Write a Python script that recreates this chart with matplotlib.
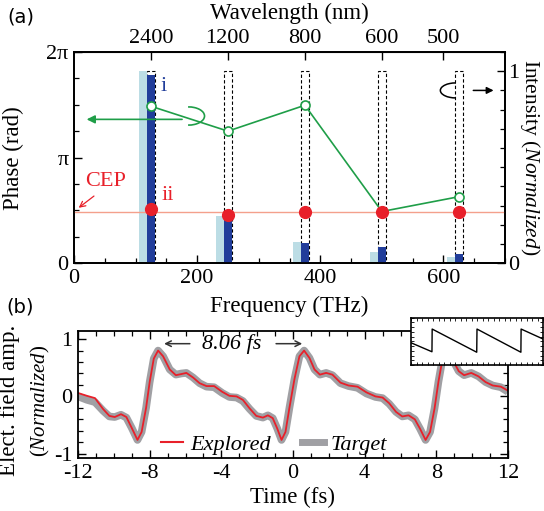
import numpy as np
import matplotlib
matplotlib.use('Agg')
import matplotlib.pyplot as plt
from matplotlib.pyplot import MultipleLocator
from matplotlib.patches import Arc
from matplotlib.lines import Line2D

plt.rcParams['font.family'] = ['Liberation Serif', 'DejaVu Serif']
plt.rcParams['mathtext.fontset'] = 'custom'
plt.rcParams['mathtext.rm'] = 'Liberation Serif'
plt.rcParams['mathtext.it'] = 'Liberation Serif:italic'
plt.rcParams['axes.unicode_minus'] = False
plt.rcParams['xtick.direction'] = 'in'
plt.rcParams['ytick.direction'] = 'in'

# ---- panel (a) data ----
freq_thz = [125, 250, 375, 500, 625]
wl_labels = ['2400', '1200', '800', '600', '500']
wl_nm = [2400, 1200, 800, 600, 500]
int_light = [1.0, 0.246, 0.11, 0.06, 0.035]
int_dark = [0.978, 0.27, 0.107, 0.087, 0.048]
phase_green = [4.67, 3.93, 4.70, 1.54, 1.98]
phase_red = [1.62, 1.43, 1.54, 1.54, 1.54]
cep_level = 1.54

# ---- panel (b) data ----
t_fs = [-12.0, -11.5, -11.05, -10.6, -10.25, -9.95, -9.6, -9.3, -9.0, -8.68,
        -8.45, -8.2, -8.0, -7.77, -7.53, -7.25, -6.88, -6.54, -6.23, -5.95,
        -5.58, -5.21, -4.83, -4.4, -3.95, -3.55, -3.15, -2.8, -2.42, -2.05,
        -1.68, -1.4, -1.13, -0.88, -0.64, -0.42, -0.2, 0.08, 0.36, 0.62,
        0.92, 1.2, 1.5, 1.85, 2.2, 2.65, 3.1, 3.6, 4.1, 4.6,
        5.0, 5.37, 5.75, 6.1, 6.45, 6.8, 7.1, 7.4, 7.65, 7.9,
        8.12, 8.32, 8.58, 8.88, 9.25, 9.55, 9.95, 10.35, 10.75, 11.15,
        11.6, 12.0]
explored = [0.06, 0.01, -0.03, -0.22, -0.34, -0.36, -0.31, -0.36, -0.55, -0.76,
            -0.62, -0.20, 0.25, 0.66, 0.80, 0.70, 0.47, 0.37, 0.39, 0.41,
            0.33, 0.23, 0.18, 0.18, 0.08, 0.01, 0.00, -0.06, -0.21, -0.34,
            -0.37, -0.33, -0.38, -0.56, -0.76, -0.62, -0.20, 0.30, 0.70, 0.80,
            0.67, 0.47, 0.38, 0.41, 0.38, 0.24, 0.19, 0.17, 0.07, 0.00,
            -0.02, -0.12, -0.27, -0.35, -0.33, -0.40, -0.57, -0.76, -0.62, -0.21,
            0.26, 0.61, 0.80, 0.66, 0.44, 0.37, 0.41, 0.35, 0.25, 0.19,
            0.17, 0.10]
target = [0.00, -0.06, -0.10, -0.25, -0.35, -0.36, -0.32, -0.37, -0.55, -0.76,
          -0.62, -0.20, 0.25, 0.66, 0.80, 0.70, 0.47, 0.38, 0.40, 0.41,
          0.33, 0.23, 0.17, 0.16, 0.06, -0.01, -0.02, -0.08, -0.22, -0.34,
          -0.37, -0.33, -0.38, -0.56, -0.76, -0.62, -0.20, 0.30, 0.70, 0.80,
          0.67, 0.47, 0.38, 0.41, 0.37, 0.23, 0.18, 0.15, 0.05, -0.01,
          -0.03, -0.13, -0.27, -0.35, -0.33, -0.40, -0.57, -0.76, -0.62, -0.21,
          0.26, 0.61, 0.80, 0.66, 0.44, 0.37, 0.41, 0.35, 0.25, 0.19,
          0.16, 0.08]

# inset (sawtooth)
inset_t = [-12.0, -8.19, -8.15, -0.05, 0.0, 7.98, 8.02, 12.0]
inset_v = [0.47, 0.28, 0.76, 0.27, 0.76, 0.27, 0.76, 0.55]

green = '#1f9e48'
red = '#e8202a'
dblue = '#213d9a'
lblue = '#bcdde5'

W, H = 544, 511
fig = plt.figure(figsize=(W / 100, H / 100), dpi=100)

def px_rect(l, r, t, b):
    return [l / W, (H - b) / H, (r - l) / W, (b - t) / H]

# ================= (a) =================
ax2 = fig.add_axes(px_rect(74, 505, 52, 263.3))
ax1 = ax2.twinx()
# ax1 = phase axis (left), drawn on top of the bars
ax1.yaxis.tick_left()
ax1.yaxis.set_label_position('left')
ax2.yaxis.tick_right()
ax2.yaxis.set_label_position('right')

fr = np.array(freq_thz)
ax2.bar(fr, [1.0] * len(fr), width=12, fill=False, edgecolor='k',
        linestyle=(0, (3, 2)), linewidth=0.8, zorder=1)
ax2.bar(fr - 13, int_light, width=14, color=lblue, zorder=2)
ax2.bar(fr, int_dark, width=12, color=dblue, zorder=3)
ax2.set_ylim(0, 1.1)
ax2.set_xlim(0, 700)
ax2.set_yticks([0, 1])
ax2.yaxis.set_minor_locator(MultipleLocator(0.1))
ax2.set_ylabel(r'Intensity ($\mathit{Normalized}$)', fontsize=15.5,
               rotation=270, va='center')
ax2.yaxis.set_label_coords(1.058, 0.5)

ax1.axhline(cep_level, color='#f4a08c', lw=1.0, zorder=2)
ax1.plot(fr, phase_green, '-o', color=green, lw=1.2, ms=6.5, mfc='white',
         mec=green, mew=1.2, zorder=4)
ax1.plot(fr, phase_red, 'o', color=red, ms=8.5, zorder=5)
ax1.set_ylim(0, 2 * np.pi)
ax1.set_yticks([0, np.pi, 2 * np.pi])
ax1.set_yticklabels(['0', 'π', '2π'])
ax1.yaxis.set_minor_locator(MultipleLocator(np.pi / 4))
ax1.set_ylabel('Phase (rad)', fontsize=16.5)
ax1.yaxis.set_label_coords(-0.115, 0.5)

ax2.set_xticks([0, 200, 400, 600])
ax2.xaxis.set_minor_locator(MultipleLocator(50))
ax2.set_xlabel('Frequency (THz)', fontsize=16.5)
ax2.xaxis.set_label_coords(0.5, -0.155)

top = ax2.secondary_xaxis('top')
top.set_xticks(299792.458 / np.array(wl_nm), wl_labels)
top.tick_params(direction='in', length=6, width=1.0, labelsize=16, pad=3)
ax2.text(0.5, 1.185, 'Wavelength (nm)', transform=ax2.transAxes,
         ha='center', va='center', fontsize=16.5)

for a in (ax1, ax2):
    a.tick_params(which='major', length=6, width=1.0, labelsize=16, pad=4)
    a.tick_params(which='minor', length=3.5, width=0.9)
    for s in a.spines.values():
        s.set_linewidth(1.3)
ax1.tick_params(axis='x', which='both', bottom=False, labelbottom=False)
ax2.tick_params(axis='y', which='major', pad=2)

# annotations
ax1.text(146, 5.25, 'i', color=dblue, fontsize=16, ha='center', va='center')
ax1.text(152, 2.03, 'ii', color=red, fontsize=16, ha='center', va='center')
ax1.text(52, 2.42, 'CEP', color=red, fontsize=16, ha='center', va='center')
ax1.annotate('', xy=(4, 1.6), xytext=(36, 2.05),
             arrowprops=dict(arrowstyle='->', color=red, lw=0.9,
                             mutation_scale=10))
ax1.annotate('', xy=(16, 4.28), xytext=(180, 4.28),
             arrowprops=dict(arrowstyle='-|>', color=green, lw=1.2,
                             mutation_scale=12))
ax1.add_patch(Arc((186, 4.38), 52, 0.54, theta1=200, theta2=520,
                  color=green, lw=1.2))
ax2.add_patch(Arc((620, 0.90), 50, 0.078, theta1=20, theta2=340,
                  color='k', lw=1.1))
ax2.annotate('', xy=(686, 0.90), xytext=(644, 0.90),
             arrowprops=dict(arrowstyle='-|>', color='k', lw=1.1,
                             mutation_scale=10))

fig.text(21 / W, 1 - 17 / H, '(a)', fontsize=14, family='DejaVu Sans',
         ha='center', va='center')

# ================= (b) =================
axb = fig.add_axes(px_rect(78, 508, 330.5, 458.3))
axb.plot(t_fs, target, color='#a0a0a4', lw=5.5, solid_capstyle='butt')
axb.plot(t_fs, explored, color=red, lw=1.3)
axb.set_xlim(-12, 12)
axb.set_ylim(-1.08, 1.15)
axb.set_xticks([-12, -8, -4, 0, 4, 8, 12])
axb.xaxis.set_minor_locator(MultipleLocator(1))
axb.set_yticks([-1, 0, 1])
axb.yaxis.set_minor_locator(MultipleLocator(0.2))
axb.tick_params(which='major', length=6, width=1.0, labelsize=16, pad=4,
                top=True, right=True)
axb.tick_params(which='minor', length=3.5, width=0.9, top=True, right=True)
for s in axb.spines.values():
    s.set_linewidth(1.3)
axb.set_xlabel('Time (fs)', fontsize=16.5)
axb.xaxis.set_label_coords(0.5, -0.22)
axb.set_ylabel('Elect. field amp.', fontsize=16.5)
axb.yaxis.set_label_coords(-0.135, 0.45)
axb.text(-0.088, 0.45, r'($\mathit{Normalized}$)', transform=axb.transAxes,
         rotation=90, ha='center', va='center', fontsize=15)

axb.text(-3.45, 0.92, '8.06 fs', style='italic', fontsize=16,
         ha='center', va='center')
axb.annotate('', xy=(-7.35, 0.92), xytext=(-5.6, 0.92),
             arrowprops=dict(arrowstyle='->', color='#333333', lw=1.1))
axb.annotate('', xy=(0.67, 0.92), xytext=(-1.1, 0.92),
             arrowprops=dict(arrowstyle='->', color='#333333', lw=1.1))

handles = [Line2D([], [], color=red, lw=1.5),
           Line2D([], [], color='#a0a0a4', lw=5.0)]
axb.legend(handles, ['Explored', 'Target'], loc='center',
           bbox_to_anchor=(0.456, 0.11), ncol=2, frameon=False,
           prop={'style': 'italic', 'size': 16}, handlelength=1.0,
           handletextpad=0.3, columnspacing=1.4, borderpad=0)

fig.text(20 / W, 1 - 307 / H, '(b)', fontsize=14, family='DejaVu Sans',
         ha='center', va='center')

# inset
axi = fig.add_axes(px_rect(411, 543, 317.7, 365))
axi.plot(inset_t, inset_v, color='k', lw=1.0)
axi.set_xlim(-12, 12)
axi.set_ylim(0, 1)
axi.set_xticks([])
axi.set_yticks([])
axi.xaxis.set_minor_locator(MultipleLocator(1))
axi.yaxis.set_minor_locator(MultipleLocator(0.1))
axi.tick_params(which='minor', length=2, width=0.6, top=True, right=True)
for s in axi.spines.values():
    s.set_linewidth(1.2)

plt.savefig('out.png', dpi=100)
